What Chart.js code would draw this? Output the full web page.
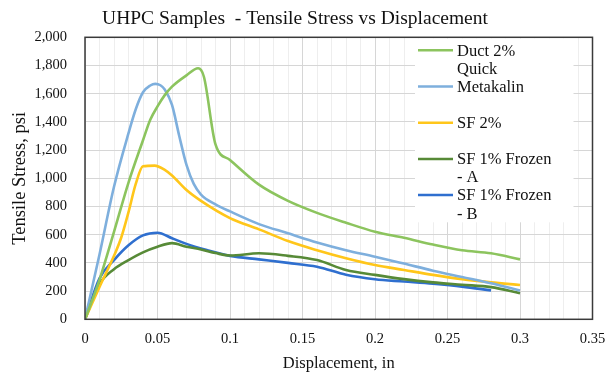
<!DOCTYPE html>
<html>
<head>
<meta charset="utf-8">
<script src="https://cdn.jsdelivr.net/npm/chart.js@4.4.1/dist/chart.umd.min.js"></script>
<style>
  body { margin: 0; background: #fff; }
  #wrap { width: 605px; height: 379px; position: relative; }
</style>
</head>
<body>
<div id="wrap"><canvas id="stress"></canvas></div>
<script>
// displacement (in) / tensile stress (psi) per sample
const ductX = [0, 0.01, 0.02, 0.03, 0.04, 0.045, 0.05, 0.055, 0.06, 0.07, 0.078, 0.082, 0.09, 0.1, 0.12, 0.14, 0.16, 0.18, 0.2, 0.22, 0.24, 0.26, 0.28, 0.3];
const ductY = [0, 280, 620, 970, 1270, 1415, 1510, 1590, 1650, 1730, 1780, 1720, 1240, 1130, 955, 840, 755, 685, 621, 578, 530, 490, 468, 425];

const metaX = [0, 0.01, 0.02, 0.03, 0.035, 0.04, 0.045, 0.0485, 0.052, 0.055, 0.06, 0.065, 0.07, 0.075, 0.08, 0.09, 0.1, 0.12, 0.14, 0.16, 0.18, 0.2, 0.22, 0.24, 0.26, 0.28, 0.3];
const metaY = [0, 460, 940, 1320, 1490, 1610, 1658, 1670, 1660, 1630, 1520, 1300, 1095, 960, 885, 815, 765, 675, 610, 545, 490, 444, 395, 345, 300, 255, 205];

const sf2X = [0, 0.01, 0.02, 0.025, 0.03, 0.035, 0.04, 0.048, 0.055, 0.06, 0.07, 0.08, 0.1, 0.12, 0.14, 0.16, 0.18, 0.2, 0.22, 0.24, 0.26, 0.28, 0.3];
const sf2Y = [0, 230, 450, 580, 760, 960, 1085, 1090, 1060, 1020, 917, 840, 718, 638, 555, 490, 433, 385, 350, 315, 285, 262, 243];

const frozenAX = [0, 0.01, 0.02, 0.03, 0.04, 0.05, 0.06, 0.07, 0.08, 0.09, 0.1, 0.12, 0.14, 0.16, 0.18, 0.2, 0.22, 0.24, 0.26, 0.28, 0.3];
const frozenAY = [0, 250, 355, 420, 475, 515, 540, 515, 495, 470, 452, 468, 450, 420, 350, 315, 285, 262, 245, 228, 185];

const frozenBX = [0, 0.01, 0.02, 0.03, 0.04, 0.05, 0.06, 0.07, 0.084, 0.1, 0.12, 0.14, 0.16, 0.18, 0.2, 0.22, 0.24, 0.26, 0.28];
const frozenBY = [0, 290, 420, 525, 595, 614, 575, 535, 491, 450, 425, 400, 373, 316, 284, 268, 252, 232, 205];

const seriesNames = ['Duct 2%', 'Quick Metakalin', 'SF 2%', 'SF 1% Frozen - A', 'SF 1% Frozen - B'];
const seriesColors = ['#8cc45e', '#7eafdd', '#ffc61a', '#578a37', '#2f6fcf'];
// legend text, line by line, and which line carries the colour key
const legendLines = [['Duct 2%'], ['Quick', 'Metakalin'], ['', 'SF 2%', ''], ['SF 1% Frozen', '- A'], ['SF 1% Frozen', '- B']];
const legendKeyLine = [0, 1, 1, 0, 0];

const yTicks = [0, 200, 400, 600, 800, 1000, 1200, 1400, 1600, 1800, 2000];

const chartTitle = 'UHPC Samples  - Tensile Stress vs Displacement';

const serif = '"Liberation Serif", "Times New Roman", serif';

function toPoints(xs, ys) {
  return xs.map((x, i) => ({ x, y: ys[i] }));
}

const chartAreaBorder = {
  id: 'chartAreaBorder',
  afterDraw(chart) {
    const { ctx, chartArea: { left, top, width, height } } = chart;
    ctx.save();
    ctx.strokeStyle = '#3a3a3a';
    ctx.lineWidth = 1.5;
    ctx.strokeRect(left, top, width, height);
    ctx.restore();
  },
};

// title sits a little left of the canvas centre
const topTitle = {
  id: 'topTitle',
  afterDraw(chart) {
    const { ctx } = chart;
    ctx.save();
    ctx.font = '19.5px ' + serif;
    ctx.fillStyle = '#111';
    ctx.textAlign = 'center';
    ctx.textBaseline = 'middle';
    ctx.fillText(chartTitle, 295, 18.5);
    ctx.restore();
  },
};

// legend box sitting inside the plot, top right
const innerLegend = {
  id: 'innerLegend',
  afterDatasetsDraw(chart) {
    const { ctx, chartArea } = chart;
    const boxLeft = chartArea.left + 330;
    const boxRight = chartArea.right - 19;
    const boxTop = chartArea.top + 1;
    const boxBottom = chartArea.top + 185;
    ctx.save();
    ctx.fillStyle = '#ffffff';
    ctx.fillRect(boxLeft, boxTop, boxRight - boxLeft, boxBottom - boxTop);
    ctx.font = '16.5px ' + serif;
    ctx.textBaseline = 'middle';
    ctx.textAlign = 'left';
    let row = 0;
    legendLines.forEach((lines, i) => {
      lines.forEach((text, j) => {
        const y = chartArea.top + 13 + row * 18.1;
        if (j === legendKeyLine[i]) {
          ctx.strokeStyle = seriesColors[i];
          ctx.lineWidth = 2.5;
          ctx.beginPath();
          ctx.moveTo(chartArea.left + 333, y);
          ctx.lineTo(chartArea.left + 368, y);
          ctx.stroke();
        }
        ctx.fillStyle = '#111';
        ctx.fillText(text, chartArea.left + 372, y + 1);
        row += 1;
      });
    });
    ctx.restore();
  },
};

const seriesData = [
  toPoints(ductX, ductY),
  toPoints(metaX, metaY),
  toPoints(sf2X, sf2Y),
  toPoints(frozenAX, frozenAY),
  toPoints(frozenBX, frozenBY),
];

// eslint-disable-next-line no-unused-vars
const stressChart = new Chart(document.getElementById('stress'), {
  type: 'line',
  data: {
    datasets: seriesData.map((points, i) => ({
      label: seriesNames[i],
      data: points,
      borderColor: seriesColors[i],
      backgroundColor: seriesColors[i],
      borderWidth: 2.6,
      pointRadius: 0,
      cubicInterpolationMode: 'monotone',
      fill: false,
    })),
  },
  options: {
    responsive: true,
    maintainAspectRatio: false,
    animation: false,
    layout: {
      padding: { top: 37.3, right: 0, bottom: 0, left: 0 },
    },
    plugins: {
      legend: { display: false },
      tooltip: { enabled: false },
      title: { display: false },
    },
    scales: {
      x: {
        type: 'linear',
        min: 0,
        max: 0.35,
        afterFit(scale) {
          scale.height = 59.7;
          // keep the plot running out to the right edge, like the left one
          scale.paddingLeft = 0;
          scale.paddingRight = 12.5;
        },
        ticks: {
          stepSize: 0.01,
          autoSkip: false,
          maxRotation: 0,
          padding: 11,
          color: '#111',
          font: { family: serif, size: 14.5 },
          callback(value) {
            const hundredths = Math.round(value * 100);
            if (hundredths % 5 !== 0) return '';
            return String(hundredths / 100);
          },
        },
        grid: {
          drawTicks: false,
          color(ctx) {
            const hundredths = Math.round(ctx.tick.value * 100);
            return hundredths % 5 === 0 ? '#d6d6d6' : '#eeeeee';
          },
        },
        border: { display: false },
        title: {
          display: true,
          text: 'Displacement, in',
          color: '#111',
          font: { family: serif, size: 16.5 },
          padding: { top: 0, bottom: 5 },
        },
      },
      y: {
        min: 0,
        max: 2000,
        afterFit(scale) {
          scale.width = 85;
        },
        afterBuildTicks(scale) {
          scale.ticks = yTicks.map((value) => ({ value }));
        },
        ticks: {
          padding: 18,
          color: '#111',
          font: { family: serif, size: 14.5 },
          callback: (value) => value.toLocaleString('en-US'),
        },
        grid: {
          drawTicks: false,
          color: '#d6d6d6',
        },
        border: { display: false },
        title: {
          display: true,
          text: 'Tensile Stress, psi',
          color: '#111',
          font: { family: serif, size: 18.5 },
          padding: { top: 9, bottom: 0 },
        },
      },
    },
  },
  plugins: [chartAreaBorder, innerLegend, topTitle],
});
</script>
</body>
</html>
